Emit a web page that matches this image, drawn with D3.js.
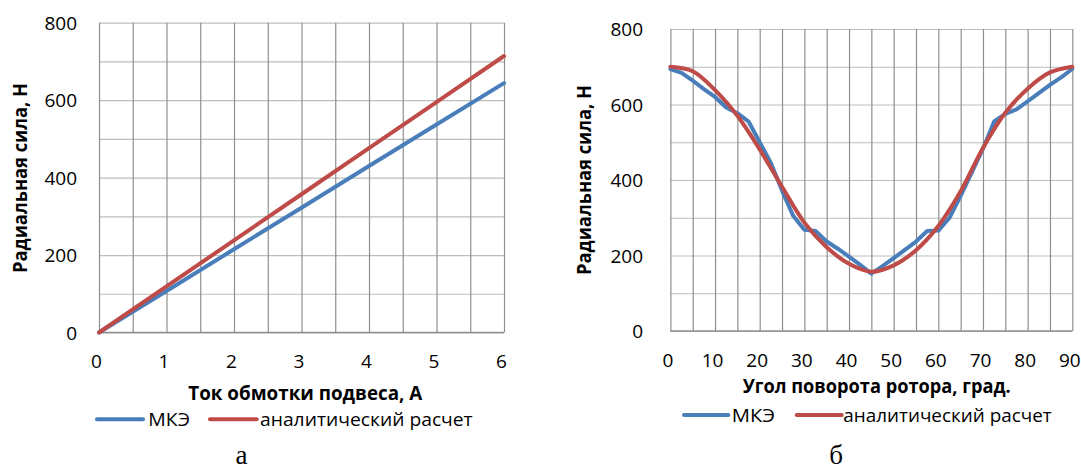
<!DOCTYPE html>
<html>
<head>
<meta charset="utf-8">
<script src="https://cdn.jsdelivr.net/npm/d3@7"></script>
<style>
  html, body { margin: 0; padding: 0; background: #ffffff; }
  svg { display: block; }
  text { font-family: "Open Sans", "Noto Sans", sans-serif; fill: #000; }
</style>
</head>
<body>
<svg id="chart" width="1081" height="470"></svg>
<script>
// ---------- data ----------
const seriesNames = ["МКЭ", "аналитический расчет"];

// chart а
const currentA   = [0, 1, 2, 3, 4, 5, 6];
const forceFemA  = [0, 107, 215, 322, 430, 537, 644];
const forceAnaA  = [0, 119, 238, 357, 476, 595, 714];
const xTicksA    = [0, 1, 2, 3, 4, 5, 6];
const xGridA     = [0, 0.5, 1, 1.5, 2, 2.5, 3, 3.5, 4, 4.5, 5, 5.5, 6];

// chart б
const angleFem   = [0, 2.5, 5, 7.5, 10, 12.5, 15, 17.5, 20, 22.5, 25, 27.5, 30, 32.5, 35, 37.5, 40, 42.5, 45,
                    47.5, 50, 52.5, 55, 57.5, 60, 62.5, 65, 67.5, 70, 72.5, 75, 77.5, 80, 82.5, 85, 87.5, 90];
const forceFemB  = [694, 684, 663, 641, 620, 592, 577, 555, 500, 445, 372, 305, 268, 265, 237, 218, 197, 175, 152,
                    172, 193, 215, 237, 265, 266, 300, 358, 420, 483, 555, 575, 587, 608, 630, 652, 672, 694];
const angleAna   = [0, 5, 10, 15, 20, 25, 30, 35, 40, 45, 50, 55, 60, 65, 70, 75, 80, 85, 90];
const forceAnaB  = [700, 688, 638, 570, 481, 382, 287, 222, 178, 157, 174, 214, 278, 370, 485, 578, 642, 685, 700];
const xTicksB    = [0, 10, 20, 30, 40, 50, 60, 70, 80, 90];
const xGridB     = [0, 5, 10, 15, 20, 25, 30, 35, 40, 45, 50, 55, 60, 65, 70, 75, 80, 85, 90];

const yTicks     = [0, 200, 400, 600, 800];
const yGrid      = [0, 100, 200, 300, 400, 500, 600, 700, 800];

const xTitleA = "Ток обмотки подвеса, А";
const xTitleB = "Угол поворота ротора, град.";
const yTitle  = "Радиальная сила, Н";
const captions = ["а", "б"];

// ---------- style ----------
const BLUE = "#4A7EBB", RED = "#BE4B48";
const VGRID = "#8f8f8f", HGRID = "#bdbdbd";
const svg = d3.select("#chart");

function fit(sel, w) {
  sel.attr("textLength", w).attr("lengthAdjust", "spacingAndGlyphs");
}

function drawChart(cfg) {
  const x = d3.scaleLinear().domain(cfg.xDomain).range([cfg.left, cfg.right]);
  const y = d3.scaleLinear().domain([0, 800]).range([cfg.bottom, cfg.top]);
  const g = svg.append("g");

  // horizontal grid
  g.append("g").attr("transform", `translate(${cfg.left},0)`)
    .call(d3.axisLeft(y).tickValues(yGrid).tickSize(-(cfg.right - cfg.left)).tickFormat(""))
    .call(s => s.select(".domain").remove())
    .call(s => s.selectAll("line").attr("stroke", HGRID).attr("stroke-width", 1.2));
  // vertical grid
  g.append("g").attr("transform", `translate(0,${cfg.top})`)
    .call(d3.axisBottom(x).tickValues(cfg.xGrid).tickSize(cfg.bottom - cfg.top).tickFormat(""))
    .call(s => s.select(".domain").remove())
    .call(s => s.selectAll("line").attr("stroke", VGRID).attr("stroke-width", 1.2));
  // bottom axis line
  g.append("line").attr("x1", cfg.left).attr("x2", cfg.right)
    .attr("y1", y(0)).attr("y2", y(0)).attr("stroke", VGRID).attr("stroke-width", 1.4);

  // x tick labels
  g.append("g").attr("transform", `translate(0,${cfg.bottom})`)
    .call(d3.axisBottom(x).tickValues(cfg.xTicks).tickSize(0).tickPadding(0).tickFormat(d3.format("d")))
    .call(s => s.select(".domain").remove())
    .call(s => s.selectAll("text")
      .attr("font-family", "Open Sans").attr("font-size", 19).attr("fill", "#000")
      .attr("dx", -3).attr("y", cfg.xLabelBase - cfg.bottom).attr("dy", 0));
  // y tick labels
  g.append("g").attr("transform", `translate(${cfg.yLabelRight},0)`)
    .call(d3.axisLeft(y).tickValues(yTicks).tickSize(0).tickPadding(0).tickFormat(d3.format("d")))
    .call(s => s.select(".domain").remove())
    .call(s => s.selectAll("text")
      .attr("font-family", "Open Sans").attr("font-size", 19).attr("fill", "#000")
      .attr("x", 0).attr("dy", "0.36em"));

  // lines
  const lineFem = d3.line().x(d => x(d[0])).y(d => y(d[1])).curve(d3.curveLinear);
  const lineAna = d3.line().x(d => x(d[0])).y(d => y(d[1])).curve(cfg.anaCurve);
  g.append("path").datum(d3.zip(cfg.femX, cfg.femY)).attr("d", lineFem)
    .attr("fill", "none").attr("stroke", BLUE).attr("stroke-width", 4)
    .attr("stroke-linejoin", "round").attr("stroke-linecap", "round");
  g.append("path").datum(d3.zip(cfg.anaX, cfg.anaY)).attr("d", lineAna)
    .attr("fill", "none").attr("stroke", RED).attr("stroke-width", 4)
    .attr("stroke-linejoin", "round").attr("stroke-linecap", "round");

  // x title
  g.append("text").text(cfg.xTitle)
    .attr("x", cfg.xTitleX).attr("y", cfg.xTitleBase)
    .attr("font-size", 19).attr("font-weight", "bold")
    .call(s => fit(s, cfg.xTitleW));
  // y title
  g.append("text").text(yTitle)
    .attr("transform", `translate(${cfg.yTitleBase},${cfg.yTitleStart}) rotate(-90)`)
    .attr("font-size", 19).attr("font-weight", "bold")
    .call(s => fit(s, 190));

  // legend
  const L = cfg.legend;
  g.append("line").attr("x1", L.b1).attr("x2", L.b2).attr("y1", L.ly).attr("y2", L.ly)
    .attr("stroke", BLUE).attr("stroke-width", 4).attr("stroke-linecap", "round");
  g.append("text").text(seriesNames[0]).attr("x", L.t1).attr("y", L.base)
    .attr("font-size", 19).call(s => fit(s, L.t1w));
  g.append("line").attr("x1", L.r1).attr("x2", L.r2).attr("y1", L.ly).attr("y2", L.ly)
    .attr("stroke", RED).attr("stroke-width", 4).attr("stroke-linecap", "round");
  g.append("text").text(seriesNames[1]).attr("x", L.t2).attr("y", L.base)
    .attr("font-size", 19).call(s => fit(s, L.t2w));

  // caption
  g.append("text").text(cfg.caption).attr("x", cfg.capX).attr("y", cfg.capBase)
    .attr("text-anchor", "middle")
    .style("font-family", "'Liberation Serif', 'DejaVu Serif', serif")
    .attr("font-size", 27);
}

drawChart({
  xDomain: [0, 6], left: 99, right: 504, top: 22.7, bottom: 332.5,
  xGrid: xGridA, xTicks: xTicksA, xLabelBase: 368, yLabelRight: 77,
  femX: currentA, femY: forceFemA, anaX: currentA, anaY: forceAnaA, anaCurve: d3.curveLinear,
  xTitle: xTitleA, xTitleX: 188.3, xTitleBase: 400, xTitleW: 234,
  yTitleBase: 26.7, yTitleStart: 273,
  legend: { ly: 419.3, b1: 97, b2: 143, t1: 148.3, t1w: 41.7, r1: 210, r2: 256.7, t2: 260, t2w: 212.7, base: 426 },
  caption: captions[0], capX: 241.5, capBase: 464
});

drawChart({
  xDomain: [0, 90], left: 670.4, right: 1072.3, top: 29, bottom: 331,
  xGrid: xGridB, xTicks: xTicksB, xLabelBase: 367, yLabelRight: 643,
  femX: angleFem, femY: forceFemB, anaX: angleAna, anaY: forceAnaB, anaCurve: d3.curveCatmullRom.alpha(0.5),
  xTitle: xTitleB, xTitleX: 742.7, xTitleBase: 393, xTitleW: 268,
  yTitleBase: 591, yTitleStart: 275,
  legend: { ly: 415, b1: 684, b2: 728.3, t1: 731.7, t1w: 43.3, r1: 796.7, r2: 841.7, t2: 843.3, t2w: 208.4, base: 421.7 },
  caption: captions[1], capX: 836, capBase: 464
});
</script>
</body>
</html>
